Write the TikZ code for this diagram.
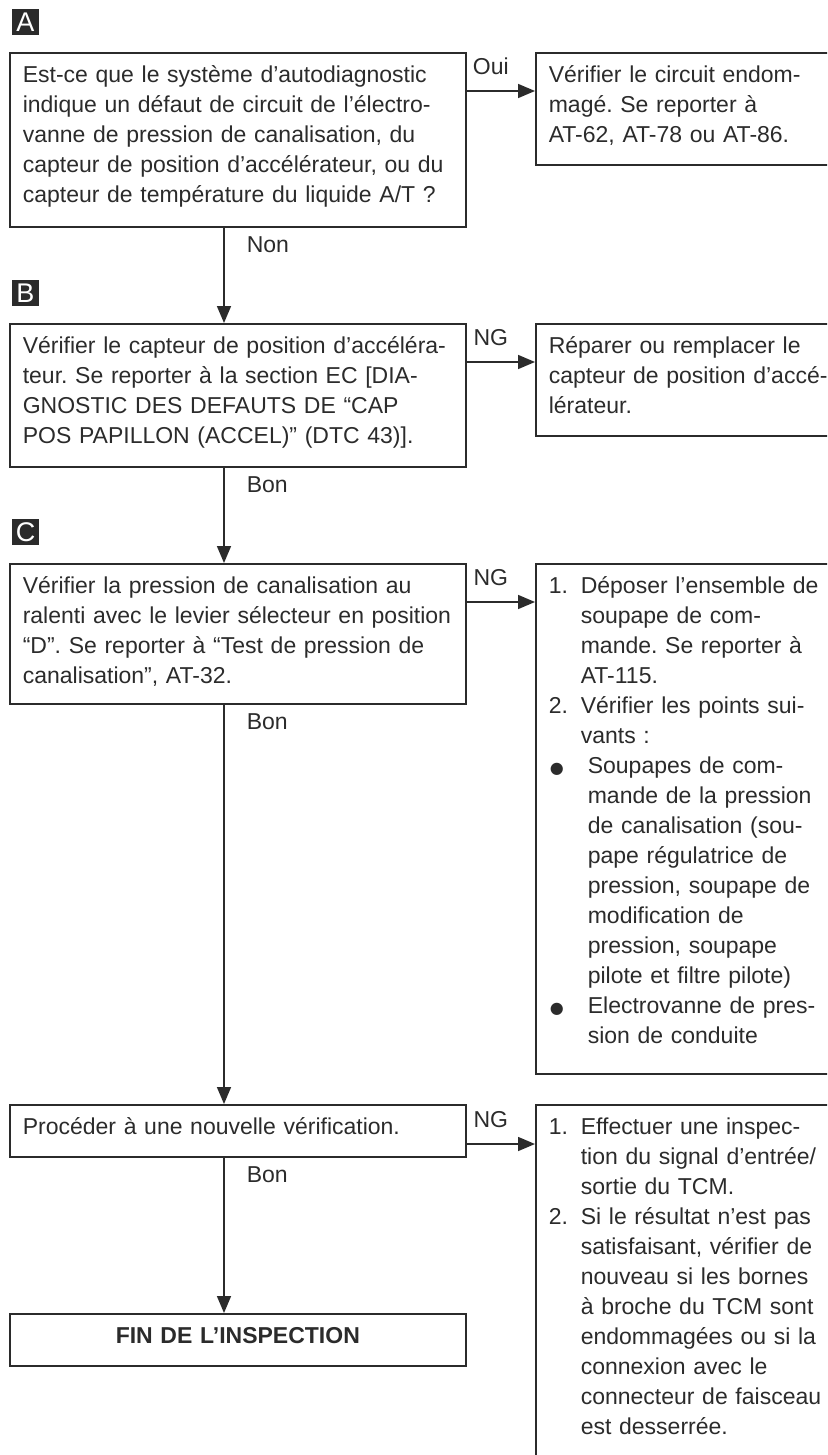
\documentclass[tikz,border=0pt]{standalone}
\usepackage{fontspec}
\setmainfont{Liberation Sans}
\newfontfamily\symfont{DejaVu Sans}
\usetikzlibrary{positioning,arrows.meta}
\definecolor{ink}{HTML}{2B2B2B}
\frenchspacing
\newcommand{\numitem}[1]{\makebox[32pt][l]{#1}}
\newcommand{\numcont}{\hspace*{32pt}}
\newcommand{\dotitem}{\makebox[39pt][l]{\hspace*{1pt}{\symfont\fontsize{16}{16}\selectfont ●}}}
\newcommand{\dotcont}{\hspace*{39pt}}

\begin{document}
\begin{tikzpicture}[x=1pt, y=-1pt, line width=1.6pt, color=ink,
  font=\fontsize{23}{30}\selectfont\frenchspacing,
  box/.style={draw, anchor=north west, align=left, inner xsep=13pt, inner ysep=9pt, text height=21pt},
  leftbox/.style={box, text width=430pt},
  rightbox/.style={box, text width=285pt},
  tag/.style={fill=ink, text=white, minimum width=27pt, minimum height=26pt, inner sep=0pt, font=\fontsize{27}{27}\selectfont},
  lbl/.style={inner sep=0pt},
  arr/.style={-{Triangle[length=17pt,width=14pt]}}]
  \useasboundingbox (0,0) rectangle (827,1455);
  \clip (0,0) rectangle (827,1455);
  \coordinate (spine) at (224,0);

  % Step A
  \node[tag] (tagA) at (25.5,22) {A};
  \node[leftbox, text depth=135pt] (qA) at (9,52) {Est-ce que le système d’autodiagnostic\\
    indique un défaut de circuit de l’électro-\\
    vanne de pression de canalisation, du\\
    capteur de position d’accélérateur, ou du\\
    capteur de température du liquide A/T ?};
  \node[rightbox, text depth=73pt] (rA) at (535,52) {Vérifier le circuit endom-\\
    magé. Se reporter à\\
    AT-62, AT-78 ou AT-86.};

  % Step B
  \node[tag] (tagB) at (25.5,293) {B};
  \node[leftbox, text depth=104pt] (qB) at (9,323) {Vérifier le capteur de position d’accéléra-\\
    teur. Se reporter à la section EC [DIA-\\
    GNOSTIC DES DEFAUTS DE “CAP\\
    POS PAPILLON (ACCEL)” (DTC 43)].};
  \node[rightbox, text depth=73pt] (rB) at (535,323) {Réparer ou remplacer le\\
    capteur de position d’accé-\\
    lérateur.};

  % Step C
  \node[tag] (tagC) at (25.5,532) {C};
  \node[leftbox, text depth=101pt] (qC) at (9,563) {Vérifier la pression de canalisation au\\
    ralenti avec le levier sélecteur en position\\
    “D”. Se reporter à “Test de pression de\\
    canalisation”, AT-32.};
  \node[rightbox, text depth=471pt] (rC) at (535,563) {\numitem{1.}Déposer l’ensemble de\\
    \numcont soupape de com-\\
    \numcont mande. Se reporter à\\
    \numcont AT-115.\\
    \numitem{2.}Vérifier les points sui-\\
    \numcont vants :\\
    \dotitem Soupapes de com-\\
    \dotcont mande de la pression\\
    \dotcont de canalisation (sou-\\
    \dotcont pape régulatrice de\\
    \dotcont pression, soupape de\\
    \dotcont modification de\\
    \dotcont pression, soupape\\
    \dotcont pilote et filtre pilote)\\
    \dotitem Electrovanne de pres-\\
    \dotcont sion de conduite};

  % Step D
  \node[leftbox, text depth=13pt] (qD) at (9,1104) {Procéder à une nouvelle vérification.};
  \node[rightbox, text depth=327pt] (rD) at (535,1104) {\numitem{1.}Effectuer une inspec-\\
    \numcont tion du signal d’entrée/\\
    \numcont sortie du TCM.\\
    \numitem{2.}Si le résultat n’est pas\\
    \numcont satisfaisant, vérifier de\\
    \numcont nouveau si les bornes\\
    \numcont à broche du TCM sont\\
    \numcont endommagées ou si la\\
    \numcont connexion avec le\\
    \numcont connecteur de faisceau\\
    \numcont est desserrée.};
  \node[box, text width=430pt, align=center, text depth=13pt, font=\fontsize{23}{30}\selectfont\bfseries] (fin) at (9,1313) {FIN DE L’INSPECTION};

  % Arrows
  \draw[arr] ([yshift=-39pt]qA.north east) -- node[lbl, above=15pt, xshift=-10pt] {Oui} ([yshift=-39pt]rA.north west);
  \draw[arr] ([yshift=-39pt]qB.north east) -- node[lbl, above=15pt, xshift=-10pt] {NG} ([yshift=-39pt]rB.north west);
  \draw[arr] ([yshift=-39pt]qC.north east) -- node[lbl, above=15pt, xshift=-10pt] {NG} ([yshift=-39pt]rC.north west);
  \draw[arr] ([yshift=-40pt]qD.north east) -- node[lbl, above=15pt, xshift=-10pt] {NG} ([yshift=-40pt]rD.north west);
  \draw[arr] (qA.south -| spine) -- node[lbl, pos=0, anchor=north west, xshift=22pt, yshift=-8pt] {Non} (qB.north -| spine);
  \draw[arr] (qB.south -| spine) -- node[lbl, pos=0, anchor=north west, xshift=22pt, yshift=-8pt] {Bon} (qC.north -| spine);
  \draw[arr] (qC.south -| spine) -- node[lbl, pos=0, anchor=north west, xshift=22pt, yshift=-8pt] {Bon} (qD.north -| spine);
  \draw[arr] (qD.south -| spine) -- node[lbl, pos=0, anchor=north west, xshift=22pt, yshift=-8pt] {Bon} (fin.north -| spine);
\end{tikzpicture}
\end{document}
